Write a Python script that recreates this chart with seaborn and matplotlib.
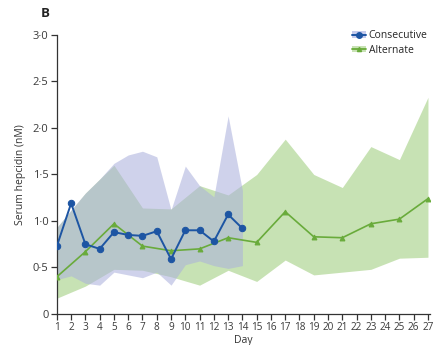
import matplotlib
matplotlib.use("Agg")
import matplotlib.pyplot as plt
from matplotlib.lines import Line2D
from matplotlib.patches import Patch
from matplotlib.ticker import FuncFormatter
import numpy as np
import pandas as pd
import seaborn as sns

# Consecutive dosing group (days 1-14)
cons_days = list(range(1, 15))
cons_mean = [0.73, 1.19, 0.75, 0.70, 0.88, 0.85, 0.84, 0.89, 0.59, 0.90, 0.90, 0.78, 1.07, 0.92]
cons_upper = [0.93, 1.12, 1.30, 1.45, 1.62, 1.71, 1.75, 1.69, 1.12, 1.59, 1.38, 1.26, 2.13, 1.33]
cons_lower = [0.37, 0.41, 0.33, 0.31, 0.45, 0.42, 0.39, 0.45, 0.31, 0.53, 0.57, 0.52, 0.49, 0.52]

# Alternate-day dosing group (odd days 1-27)
alt_days = list(range(1, 28, 2))
alt_mean = [0.40, 0.67, 0.97, 0.73, 0.68, 0.70, 0.82, 0.77, 1.10, 0.83, 0.82, 0.97, 1.02, 1.24]
alt_upper = [0.93, 1.30, 1.60, 1.14, 1.13, 1.38, 1.28, 1.50, 1.88, 1.50, 1.36, 1.80, 1.66, 2.33]
alt_lower = [0.17, 0.30, 0.48, 0.47, 0.40, 0.31, 0.47, 0.35, 0.58, 0.42, 0.45, 0.48, 0.60, 0.61]

y_ticks = [0, 0.5, 1.0, 1.5, 2.0, 2.5, 3.0]

BLUE = "#1d55a3"
GREEN = "#69ab3b"
BLUE_BAND = "#abb0dc"
GREEN_BAND = "#a3cf82"

cons = pd.DataFrame({"day": cons_days, "hepcidin": cons_mean})
alt = pd.DataFrame({"day": alt_days, "hepcidin": alt_mean})

sns.set_style("ticks")
plt.rcParams["font.family"] = ["Open Sans", "DejaVu Sans"]

fig = plt.figure(figsize=(4.34, 3.45), dpi=100)
ax = fig.add_axes([0.131, 0.0899, 0.86, 0.8087])

# shaded ranges: green first, blue on top so the overlap turns grey
ax.fill_between(alt_days, alt_lower, alt_upper, color=GREEN_BAND, alpha=0.6, lw=0, zorder=1)
ax.fill_between(cons_days, cons_lower, cons_upper, color=BLUE_BAND, alpha=0.56, lw=0, zorder=2)

sns.lineplot(data=alt, x="day", y="hepcidin", ax=ax, color=GREEN, lw=1.2,
             marker="^", markersize=3.5, markeredgecolor=GREEN, zorder=3)
sns.lineplot(data=cons, x="day", y="hepcidin", ax=ax, color=BLUE, lw=1.4,
             marker="o", markersize=4.6, markeredgecolor=BLUE, zorder=4)

ax.set_xlim(1, 27.15)
ax.set_ylim(0, 3.0)
ax.set_xticks(range(1, 28))
ax.set_yticks(y_ticks)
ax.yaxis.set_major_formatter(FuncFormatter(
    lambda v, p: "0" if v == 0 else f"{v:.1f}".replace(".", "\u00b7")))
ax.tick_params(axis="both", direction="out", length=4, width=0.9, color="#333333",
               labelcolor="#3a3a3a", pad=2)
ax.tick_params(axis="y", labelsize=8)
ax.tick_params(axis="x", labelsize=7.2)
for s in ["left", "bottom"]:
    ax.spines[s].set_linewidth(0.9)
    ax.spines[s].set_color("#333333")
sns.despine(ax=ax)

ax.set_xlabel("Day", fontsize=7.5, color="#333333", labelpad=1)
ax.set_ylabel("Serum hepcidin (nM)", fontsize=7.5, color="#333333", labelpad=5)

fig.text(0.093, 0.962, "B", fontsize=9.5, fontweight="bold", color="#222222",
         ha="left", va="center")

handles = [
    (Patch(facecolor="#c6cbec", edgecolor="none"),
     Line2D([], [], color=BLUE, lw=1.4, marker="o", markersize=4)),
    (Patch(facecolor="#c8e2b4", edgecolor="none"),
     Line2D([], [], color=GREEN, lw=1.3, marker="^", markersize=3)),
]
ax.legend(handles, ["Consecutive", "Alternate"], loc="upper right",
          bbox_to_anchor=(1.01, 1.04), frameon=False, fontsize=7.5,
          handlelength=1.3, handleheight=0.6, handletextpad=0.3,
          labelspacing=0.35, borderaxespad=0.2)

fig.savefig("out.png", dpi=100)
